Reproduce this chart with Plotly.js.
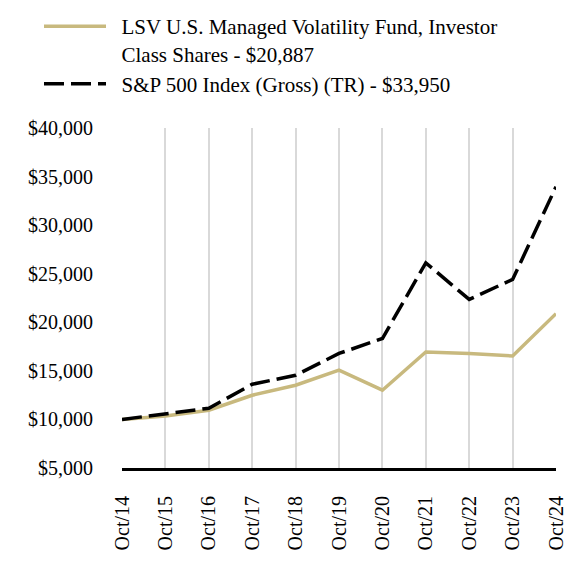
<!DOCTYPE html>
<html>
<head>
<meta charset="utf-8">
<script src="https://cdn.plot.ly/plotly-3.0.1.min.js"></script>
<style>html,body{margin:0;padding:0;background:#fff;}#chart{width:576px;height:576px;}</style>
</head>
<body>
<div id="chart"></div>
<script>
const categories = ["Oct/14","Oct/15","Oct/16","Oct/17","Oct/18","Oct/19","Oct/20","Oct/21","Oct/22","Oct/23","Oct/24"];
const fundValues = [10000, 10360, 10950, 12490, 13520, 15070, 13010, 16950, 16790, 16540, 20887];
const indexValues = [10000, 10600, 11150, 13620, 14550, 16790, 18330, 26120, 22350, 24410, 33950];
const pad = "\u00a0\u00a0";
const fundName = pad + "LSV U.S. Managed Volatility Fund, Investor<br>" + pad + "Class Shares - $20,887";
const indexName = pad + "S&P 500 Index (Gross) (TR) - $33,950";
const yTickVals = [5000, 10000, 15000, 20000, 25000, 30000, 35000, 40000];
const yTickText = ["$5,000","$10,000","$15,000","$20,000","$25,000","$30,000","$35,000","$40,000"];

const font = "Liberation Serif, Times New Roman, serif";
const traces = [
  {x: categories, y: fundValues, name: fundName, type: "scatter", mode: "lines",
   line: {color: "#C8B97E", width: 3.5}},
  {x: categories, y: indexValues, name: indexName, type: "scatter", mode: "lines",
   line: {color: "#000000", width: 3.5, dash: "20px,7px"}}
];
const layout = {
  width: 576, height: 576,
  margin: {l: 122, r: 20, t: 128, b: 108, autoexpand: false},
  paper_bgcolor: "#ffffff", plot_bgcolor: "#ffffff",
  font: {family: font, size: 20, color: "#000"},
  showlegend: true,
  legend: {x: 39 / 576, xref: "container", xanchor: "left", y: 1 - 6 / 576, yref: "container", yanchor: "top",
           orientation: "v", valign: "top",
           font: {family: font, size: 21, color: "#000"}, itemwidth: 62,
           tracegroupgap: 5, bgcolor: "rgba(0,0,0,0)"},
  xaxis: {type: "category", tickvals: categories, ticktext: categories, tickangle: -90,
          showgrid: true, gridcolor: "#d9d9d9", gridwidth: 2,
          showline: true, linecolor: "#000", linewidth: 3, ticks: "", ticklabelstandoff: 17,
          range: [0, categories.length - 1], zeroline: false, fixedrange: true, automargin: false},
  yaxis: {range: [5000, 40000], tickvals: yTickVals, ticktext: yTickText,
          showgrid: false, zeroline: false, showline: false, ticks: "", ticklabelstandoff: 28,
          fixedrange: true, automargin: false}
};
Plotly.newPlot("chart", traces, layout, {staticPlot: true, displayModeBar: false});
</script>
</body>
</html>
